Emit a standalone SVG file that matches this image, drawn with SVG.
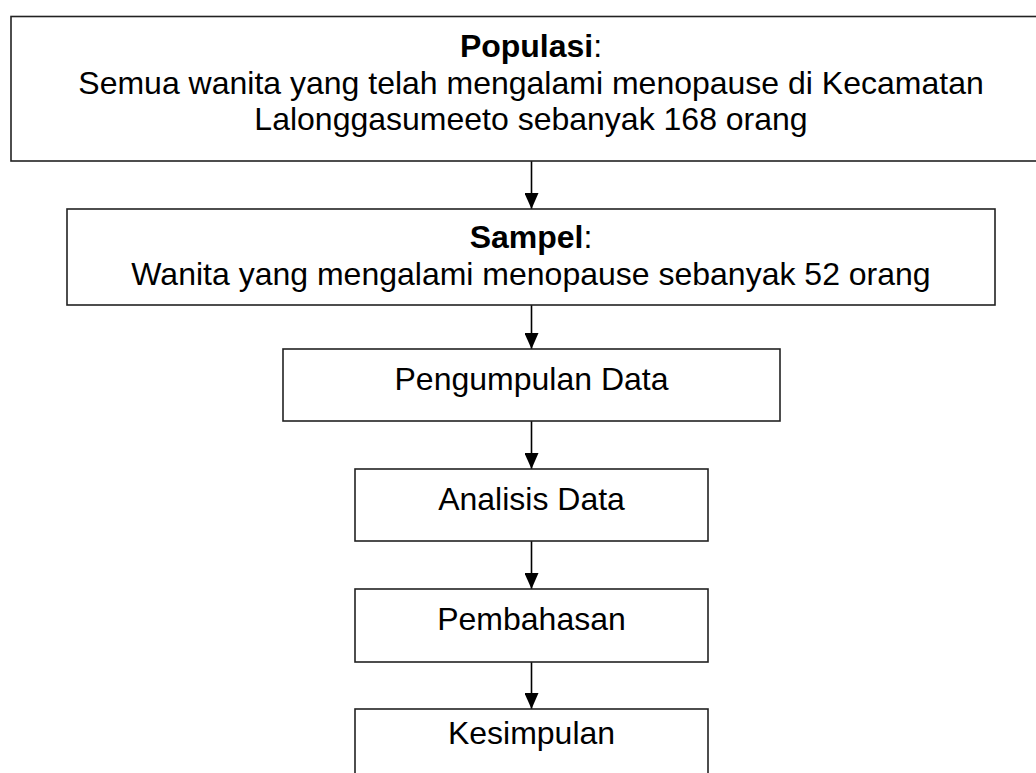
<svg xmlns="http://www.w3.org/2000/svg" width="1036" height="773" viewBox="0 0 1036 773">
<style>
.box{fill:#fff;stroke:#222;stroke-width:1.6}
.t{font-family:"Liberation Sans",Arial,sans-serif;font-size:32px;fill:#000;text-anchor:middle}
.b{font-weight:bold}
.c{stroke:#000;stroke-width:1.6;fill:none;marker-end:url(#ah)}
</style>
<defs>
<marker id="ah" markerUnits="userSpaceOnUse" markerWidth="16" markerHeight="14" viewBox="0 0 16 14" refX="16" refY="7" orient="auto">
<path d="M0,0 L16,7 L0,14 Z" fill="#000"/>
</marker>
</defs>
<rect width="1036" height="773" fill="#fff"/>
<g id="connectors">
<line class="c" x1="531.5" y1="161" x2="531.5" y2="209"/>
<line class="c" x1="531.5" y1="305" x2="531.5" y2="349"/>
<line class="c" x1="531.5" y1="421" x2="531.5" y2="469"/>
<line class="c" x1="531.5" y1="541" x2="531.5" y2="589"/>
<line class="c" x1="531.5" y1="662" x2="531.5" y2="709"/>
</g>
<g id="populasi">
<rect class="box" x="11" y="16.5" width="1040" height="144.5"/>
<text class="t" x="531" y="57"><tspan class="b">Populasi</tspan>:</text>
<text class="t" x="531" y="93.5">Semua wanita yang telah mengalami menopause di Kecamatan</text>
<text class="t" x="531" y="130">Lalonggasumeeto sebanyak 168 orang</text>
</g>
<g id="sampel">
<rect class="box" x="67" y="209" width="928" height="96"/>
<text class="t" x="531" y="248"><tspan class="b">Sampel</tspan>:</text>
<text class="t" x="531" y="285">Wanita yang mengalami menopause sebanyak 52 orang</text>
</g>
<g id="pengumpulan">
<rect class="box" x="283" y="349" width="497" height="72"/>
<text class="t" x="531.5" y="390">Pengumpulan Data</text>
</g>
<g id="analisis">
<rect class="box" x="355" y="469" width="353" height="72"/>
<text class="t" x="531.5" y="510">Analisis Data</text>
</g>
<g id="pembahasan">
<rect class="box" x="355" y="589" width="353" height="73"/>
<text class="t" x="531.5" y="630">Pembahasan</text>
</g>
<g id="kesimpulan">
<rect class="box" x="355" y="709" width="353" height="80"/>
<text class="t" x="531.5" y="744">Kesimpulan</text>
</g>
</svg>
